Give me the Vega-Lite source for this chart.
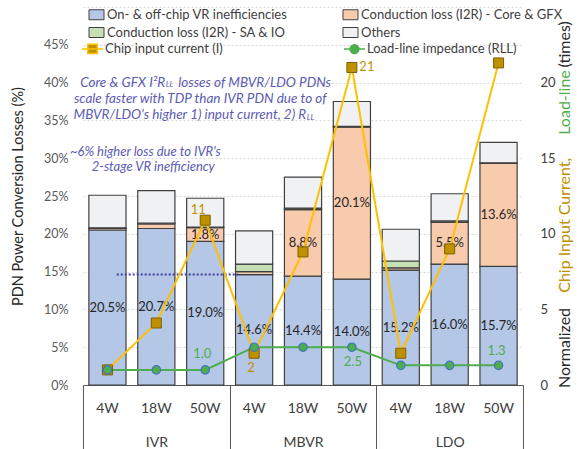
{
  "$schema": "https://vega.github.io/schema/vega-lite/v6.json",
  "width": 440,
  "height": 378,
  "autosize": "none",
  "padding": {"left": 83, "top": 7, "right": 54, "bottom": 64},
  "background": "white",
  "config": {
    "font": "Lato",
    "view": {"stroke": null},
    "axisLeft": {"tickCount": 12, "format": ".0%", "labelExpr": "datum.value > 0.46 ? '' : datum.label", "labelOverlap": false, "grid": true, "gridColor": "#d9d9d9", "gridDash": [2, 2], "domain": false, "ticks": false, "labelFontSize": 12.5, "labelColor": "#595959", "labelPadding": 15, "titleFontSize": 14.5, "titleFontWeight": "normal", "titleColor": "#262626", "titlePadding": 18}
  },
  "datasets": {
    "bars": [
      {"cat": "IVR 4W", "ord": 1, "series": "On- & off-chip VR inefficiencies", "value": 0.205},
      {"cat": "IVR 4W", "ord": 2, "series": "Conduction loss (I2R) - Core & GFX", "value": 0.002},
      {"cat": "IVR 4W", "ord": 3, "series": "Conduction loss (I2R) - SA & IO", "value": 0.001},
      {"cat": "IVR 4W", "ord": 4, "series": "Others", "value": 0.043},
      {"cat": "IVR 18W", "ord": 1, "series": "On- & off-chip VR inefficiencies", "value": 0.207},
      {"cat": "IVR 18W", "ord": 2, "series": "Conduction loss (I2R) - Core & GFX", "value": 0.006},
      {"cat": "IVR 18W", "ord": 3, "series": "Conduction loss (I2R) - SA & IO", "value": 0.001},
      {"cat": "IVR 18W", "ord": 4, "series": "Others", "value": 0.043},
      {"cat": "IVR 50W", "ord": 1, "series": "On- & off-chip VR inefficiencies", "value": 0.19},
      {"cat": "IVR 50W", "ord": 2, "series": "Conduction loss (I2R) - Core & GFX", "value": 0.018},
      {"cat": "IVR 50W", "ord": 3, "series": "Conduction loss (I2R) - SA & IO", "value": 0.001},
      {"cat": "IVR 50W", "ord": 4, "series": "Others", "value": 0.038},
      {"cat": "MBVR 4W", "ord": 1, "series": "On- & off-chip VR inefficiencies", "value": 0.146},
      {"cat": "MBVR 4W", "ord": 2, "series": "Conduction loss (I2R) - Core & GFX", "value": 0.004},
      {"cat": "MBVR 4W", "ord": 3, "series": "Conduction loss (I2R) - SA & IO", "value": 0.01},
      {"cat": "MBVR 4W", "ord": 4, "series": "Others", "value": 0.044},
      {"cat": "MBVR 18W", "ord": 1, "series": "On- & off-chip VR inefficiencies", "value": 0.144},
      {"cat": "MBVR 18W", "ord": 2, "series": "Conduction loss (I2R) - Core & GFX", "value": 0.088},
      {"cat": "MBVR 18W", "ord": 3, "series": "Conduction loss (I2R) - SA & IO", "value": 0.002},
      {"cat": "MBVR 18W", "ord": 4, "series": "Others", "value": 0.041},
      {"cat": "MBVR 50W", "ord": 1, "series": "On- & off-chip VR inefficiencies", "value": 0.14},
      {"cat": "MBVR 50W", "ord": 2, "series": "Conduction loss (I2R) - Core & GFX", "value": 0.201},
      {"cat": "MBVR 50W", "ord": 3, "series": "Conduction loss (I2R) - SA & IO", "value": 0.001},
      {"cat": "MBVR 50W", "ord": 4, "series": "Others", "value": 0.033},
      {"cat": "LDO 4W", "ord": 1, "series": "On- & off-chip VR inefficiencies", "value": 0.152},
      {"cat": "LDO 4W", "ord": 2, "series": "Conduction loss (I2R) - Core & GFX", "value": 0.003},
      {"cat": "LDO 4W", "ord": 3, "series": "Conduction loss (I2R) - SA & IO", "value": 0.009},
      {"cat": "LDO 4W", "ord": 4, "series": "Others", "value": 0.042},
      {"cat": "LDO 18W", "ord": 1, "series": "On- & off-chip VR inefficiencies", "value": 0.16},
      {"cat": "LDO 18W", "ord": 2, "series": "Conduction loss (I2R) - Core & GFX", "value": 0.055},
      {"cat": "LDO 18W", "ord": 3, "series": "Conduction loss (I2R) - SA & IO", "value": 0.002},
      {"cat": "LDO 18W", "ord": 4, "series": "Others", "value": 0.036},
      {"cat": "LDO 50W", "ord": 1, "series": "On- & off-chip VR inefficiencies", "value": 0.157},
      {"cat": "LDO 50W", "ord": 2, "series": "Conduction loss (I2R) - Core & GFX", "value": 0.136},
      {"cat": "LDO 50W", "ord": 3, "series": "Conduction loss (I2R) - SA & IO", "value": 0.001},
      {"cat": "LDO 50W", "ord": 4, "series": "Others", "value": 0.027}
    ],
    "lines": [
      {"cat": "IVR 4W", "series": "Chip input current (I)", "value": 1.0},
      {"cat": "IVR 18W", "series": "Chip input current (I)", "value": 4.1},
      {"cat": "IVR 50W", "series": "Chip input current (I)", "value": 10.9},
      {"cat": "MBVR 4W", "series": "Chip input current (I)", "value": 2.1},
      {"cat": "MBVR 18W", "series": "Chip input current (I)", "value": 8.8},
      {"cat": "MBVR 50W", "series": "Chip input current (I)", "value": 21.0},
      {"cat": "LDO 4W", "series": "Chip input current (I)", "value": 2.1},
      {"cat": "LDO 18W", "series": "Chip input current (I)", "value": 9.0},
      {"cat": "LDO 50W", "series": "Chip input current (I)", "value": 21.3},
      {"cat": "IVR 4W", "series": "Load-line impedance (RLL)", "value": 1.0},
      {"cat": "IVR 18W", "series": "Load-line impedance (RLL)", "value": 1.0},
      {"cat": "IVR 50W", "series": "Load-line impedance (RLL)", "value": 1.0},
      {"cat": "MBVR 4W", "series": "Load-line impedance (RLL)", "value": 2.5},
      {"cat": "MBVR 18W", "series": "Load-line impedance (RLL)", "value": 2.5},
      {"cat": "MBVR 50W", "series": "Load-line impedance (RLL)", "value": 2.5},
      {"cat": "LDO 4W", "series": "Load-line impedance (RLL)", "value": 1.3},
      {"cat": "LDO 18W", "series": "Load-line impedance (RLL)", "value": 1.3},
      {"cat": "LDO 50W", "series": "Load-line impedance (RLL)", "value": 1.3}
    ],
    "groups": [{"group": "IVR"}, {"group": "MBVR"}, {"group": "LDO"}]
  },
  "resolve": {"scale": {"x": "independent", "y": "independent"}},
  "layer": [
    {
      "data": {"name": "bars"},
      "encoding": {
        "x": {
          "field": "cat", "type": "nominal", "title": null,
          "scale": {"domain": ["IVR 4W","IVR 18W","IVR 50W","MBVR 4W","MBVR 18W","MBVR 50W","LDO 4W","LDO 18W","LDO 50W"], "paddingInner": 0.24, "paddingOuter": 0.12},
          "axis": {"orient": "bottom", "labelExpr": "split(datum.label, ' ')[1]", "labelAngle": 0, "ticks": false, "domain": true, "domainColor": "#595959", "domainWidth": 1, "labelFontSize": 14, "labelColor": "#404040", "labelPadding": 16, "title": null}
        }
      },
      "layer": [
        {
          "mark": {"type": "bar", "stroke": "#404040", "strokeWidth": 1.2},
          "encoding": {
            "y": {"field": "value", "type": "quantitative", "stack": "zero", "scale": {"domain": [0, 0.5]},
              "axis": {"title": "PDN Power Conversion Losses (%)", "tickCount": 12, "values": [0, 0.05, 0.1, 0.15, 0.2, 0.25, 0.3, 0.35, 0.4, 0.45, 0.5]}},
            "fill": {"field": "series", "type": "nominal",
              "scale": {"domain": ["On- & off-chip VR inefficiencies", "Conduction loss (I2R) - SA & IO", "Conduction loss (I2R) - Core & GFX", "Others"], "range": ["#b4c7e7", "#c5e0b4", "#f8cbad", "#f0f1f3"]},
              "legend": {"title": null, "orient": "none", "legendX": 7, "legendY": 1, "columns": 2, "columnPadding": 53, "rowPadding": 3, "symbolType": "M-1.5,-1H1.5V1H-1.5Z", "symbolSize": 100, "symbolStrokeColor": "#404040", "symbolStrokeWidth": 1, "symbolOpacity": 1, "labelFontSize": 13, "labelColor": "#404040", "labelOffset": 4, "labelLimit": 300}},
            "order": {"field": "ord", "type": "quantitative"}
          }
        },
        {
          "transform": [
            {"stack": "value", "groupby": ["cat"], "sort": [{"field": "ord"}], "as": ["v0", "v1"]},
            {"filter": "datum.ord == 1 || (datum.ord == 2 && datum.value >= 0.01)"},
            {"calculate": "(datum.v0 + datum.v1) / 2", "as": "mid"}
          ],
          "mark": {"type": "text", "fontSize": 13, "color": "#262626", "baseline": "middle"},
          "encoding": {
            "y": {"field": "mid", "type": "quantitative"},
            "text": {"field": "value", "type": "quantitative", "format": ".1%"}
          }
        },
        {
          "data": {"values": [{}]},
          "mark": {"type": "rule", "stroke": "#3f3f9f", "strokeWidth": 2, "strokeDash": [2, 2]},
          "encoding": {
            "x": {"datum": "IVR 4W", "type": "nominal", "bandPosition": 0.75},
            "x2": {"datum": "MBVR 4W", "bandPosition": 0.07},
            "y": {"datum": 0.146, "type": "quantitative"}
          }
        },
        {
          "data": {"values": [{}]},
          "mark": {"type": "text", "fontSize": 13.5, "fontStyle": "italic", "color": "#5b5bb5", "align": "right", "baseline": "middle", "dx": -40},
          "encoding": {"x": {"datum": "IVR 50W", "type": "nominal"}, "y": {"datum": 0.4, "type": "quantitative"}, "text": {"value": "Core & GFX I²R"}}
        },
        {
          "data": {"values": [{}]},
          "mark": {"type": "text", "fontSize": 8, "fontStyle": "italic", "color": "#5b5bb5", "align": "left", "baseline": "middle", "dx": -39.5, "dy": 2.5},
          "encoding": {"x": {"datum": "IVR 50W", "type": "nominal"}, "y": {"datum": 0.4, "type": "quantitative"}, "text": {"value": "LL"}}
        },
        {
          "data": {"values": [{}]},
          "mark": {"type": "text", "fontSize": 13.5, "fontStyle": "italic", "color": "#5b5bb5", "align": "left", "baseline": "middle", "dx": -27},
          "encoding": {"x": {"datum": "IVR 50W", "type": "nominal"}, "y": {"datum": 0.4, "type": "quantitative"}, "text": {"value": "losses of MBVR/LDO PDNs"}}
        },
        {
          "data": {"values": [{}]},
          "mark": {"type": "text", "fontSize": 13.5, "fontStyle": "italic", "color": "#5b5bb5", "align": "center", "baseline": "middle", "dx": -5},
          "encoding": {"x": {"datum": "IVR 50W", "type": "nominal"}, "y": {"datum": 0.378, "type": "quantitative"}, "text": {"value": "scale faster with TDP than IVR PDN due to of"}}
        },
        {
          "data": {"values": [{}]},
          "mark": {"type": "text", "fontSize": 13.5, "fontStyle": "italic", "color": "#5b5bb5", "align": "right", "baseline": "middle", "dx": 101},
          "encoding": {"x": {"datum": "IVR 50W", "type": "nominal"}, "y": {"datum": 0.357, "type": "quantitative"}, "text": {"value": "MBVR/LDO's higher 1) input current, 2) R"}}
        },
        {
          "data": {"values": [{}]},
          "mark": {"type": "text", "fontSize": 8, "fontStyle": "italic", "color": "#5b5bb5", "align": "left", "baseline": "middle", "dx": 101.5, "dy": 3},
          "encoding": {"x": {"datum": "IVR 50W", "type": "nominal"}, "y": {"datum": 0.357, "type": "quantitative"}, "text": {"value": "LL"}}
        },
        {
          "data": {"values": [{}]},
          "mark": {"type": "text", "fontSize": 13, "fontStyle": "italic", "color": "#5b5bb5", "align": "center", "baseline": "middle", "dx": -11},
          "encoding": {"x": {"datum": "IVR 18W", "type": "nominal"}, "y": {"datum": 0.308, "type": "quantitative"}, "text": {"value": "~6% higher loss due to IVR's"}}
        },
        {
          "data": {"values": [{}]},
          "mark": {"type": "text", "fontSize": 13, "fontStyle": "italic", "color": "#5b5bb5", "align": "center", "baseline": "middle", "dx": -3},
          "encoding": {"x": {"datum": "IVR 18W", "type": "nominal"}, "y": {"datum": 0.288, "type": "quantitative"}, "text": {"value": "2-stage VR inefficiency"}}
        },
        {
          "data": {"values": [{}]},
          "mark": {"type": "text", "fontSize": 16, "color": "#262626", "align": "left", "baseline": "middle", "angle": 270, "dy": 66, "dx": -3},
          "encoding": {"x": {"datum": "LDO 50W", "type": "nominal"}, "y": {"datum": 0, "type": "quantitative"}, "text": {"value": "Normalized"}}
        },
        {
          "data": {"values": [{}]},
          "mark": {"type": "text", "fontSize": 16, "color": "#bf9000", "align": "left", "baseline": "middle", "angle": 270, "dy": 66},
          "encoding": {"x": {"datum": "LDO 50W", "type": "nominal"}, "y": {"datum": 0.122, "type": "quantitative"}, "text": {"value": "Chip Input Current,"}}
        },
        {
          "data": {"values": [{}]},
          "mark": {"type": "text", "fontSize": 16, "color": "#4cae4c", "align": "left", "baseline": "middle", "angle": 270, "dy": 66},
          "encoding": {"x": {"datum": "LDO 50W", "type": "nominal"}, "y": {"datum": 0.331, "type": "quantitative"}, "text": {"value": "Load-line"}}
        },
        {
          "data": {"values": [{}]},
          "mark": {"type": "text", "fontSize": 16, "color": "#262626", "align": "left", "baseline": "middle", "angle": 270, "dy": 66},
          "encoding": {"x": {"datum": "LDO 50W", "type": "nominal"}, "y": {"datum": 0.42, "type": "quantitative"}, "text": {"value": "(times)"}}
        }
      ]
    },
    {
      "data": {"name": "lines"},
      "encoding": {
        "x": {"field": "cat", "type": "nominal",
          "scale": {"domain": ["IVR 4W","IVR 18W","IVR 50W","MBVR 4W","MBVR 18W","MBVR 50W","LDO 4W","LDO 18W","LDO 50W"], "paddingInner": 0.24, "paddingOuter": 0.12},
          "axis": null},
        "y": {"field": "value", "type": "quantitative", "scale": {"domain": [0, 25]},
          "axis": {"orient": "right", "title": null, "values": [0, 5, 10, 15, 20], "grid": false, "domain": false, "ticks": false, "labelFontSize": 13, "labelColor": "#404040", "labelPadding": 17}}
      },
      "layer": [
        {
          "mark": {"type": "line", "strokeWidth": 2},
          "encoding": {
            "stroke": {"field": "series", "type": "nominal",
              "scale": {"domain": ["Chip input current (I)", "Load-line impedance (RLL)"], "range": ["#ffc000", "#4cae4c"]},
              "legend": {"title": null, "orient": "none", "legendX": -2, "legendY": 30, "columns": 2, "columnPadding": 118, "symbolType": "M-1,0H1M-0.45,-0.45H0.45V0.45H-0.45Z", "symbolSize": 441, "symbolStrokeWidth": 1.5, "labelFontSize": 13, "labelColor": "#404040", "labelOffset": 1, "labelLimit": 300,
                "encode": {"symbols": {"update": {
                  "shape": {"signal": "datum.value == 'Chip input current (I)' ? 'M-1,0H1M-0.45,-0.45H0.45V0.45H-0.45Z' : 'M-1,0H1M0.42,0A0.42,0.42 0 1,1 -0.42,0A0.42,0.42 0 1,1 0.42,0'"},
                  "fill": {"signal": "datum.value == 'Chip input current (I)' ? '#bf9000' : '#4cae4c'"}
                }}}}},
            "order": {"value": null}
          }
        },
        {
          "transform": [{"filter": "datum.series == 'Chip input current (I)'"}],
          "mark": {"type": "point", "shape": "square", "filled": true, "size": 100, "fill": "#bf9000", "stroke": "#7f6000", "strokeWidth": 1, "opacity": 1}
        },
        {
          "transform": [{"filter": "datum.series == 'Load-line impedance (RLL)'"}],
          "mark": {"type": "point", "shape": "circle", "filled": true, "size": 70, "fill": "#4cae4c", "stroke": "#4472c4", "strokeWidth": 1.2, "opacity": 1}
        },
        {
          "transform": [{"filter": "datum.series == 'Chip input current (I)' && datum.cat == 'IVR 50W'"}],
          "mark": {"type": "text", "fontSize": 13, "color": "#bf9000", "dx": -7, "dy": -10},
          "encoding": {"text": {"field": "value", "type": "quantitative", "format": ".0f"}}
        },
        {
          "transform": [{"filter": "datum.series == 'Chip input current (I)' && datum.cat == 'MBVR 50W'"}],
          "mark": {"type": "text", "fontSize": 13, "color": "#bf9000", "dx": 15, "dy": 0},
          "encoding": {"text": {"field": "value", "type": "quantitative", "format": ".0f"}}
        },
        {
          "transform": [{"filter": "datum.series == 'Chip input current (I)' && datum.cat == 'MBVR 4W'"}],
          "mark": {"type": "text", "fontSize": 13, "color": "#bf9000", "dx": -3, "dy": 15},
          "encoding": {"text": {"field": "value", "type": "quantitative", "format": ".0f"}}
        },
        {
          "transform": [{"filter": "datum.series == 'Load-line impedance (RLL)' && datum.cat == 'IVR 50W'"}],
          "mark": {"type": "text", "fontSize": 13, "color": "#4cae4c", "dx": -3, "dy": -16},
          "encoding": {"text": {"field": "value", "type": "quantitative", "format": ".1f"}}
        },
        {
          "transform": [{"filter": "datum.series == 'Load-line impedance (RLL)' && datum.cat == 'MBVR 50W'"}],
          "mark": {"type": "text", "fontSize": 13, "color": "#4cae4c", "dx": 1, "dy": 15},
          "encoding": {"text": {"field": "value", "type": "quantitative", "format": ".1f"}}
        },
        {
          "transform": [{"filter": "datum.series == 'Load-line impedance (RLL)' && datum.cat == 'LDO 50W'"}],
          "mark": {"type": "text", "fontSize": 13, "color": "#4cae4c", "dx": -2, "dy": -14},
          "encoding": {"text": {"field": "value", "type": "quantitative", "format": ".1f"}}
        }
      ]
    },
    {
      "data": {"name": "groups"},
      "mark": {"type": "rule", "opacity": 0},
      "encoding": {
        "x": {"field": "group", "type": "nominal",
          "scale": {"domain": ["IVR", "MBVR", "LDO"], "paddingInner": 0, "paddingOuter": 0},
          "axis": {"orient": "bottom", "title": null, "labelAngle": 0, "tickBand": "extent", "ticks": true, "tickSize": 66, "tickColor": "#595959", "tickWidth": 1, "domain": false, "labelPadding": -16, "labelFontSize": 14, "labelColor": "#404040"}}
      }
    }
  ]
}
